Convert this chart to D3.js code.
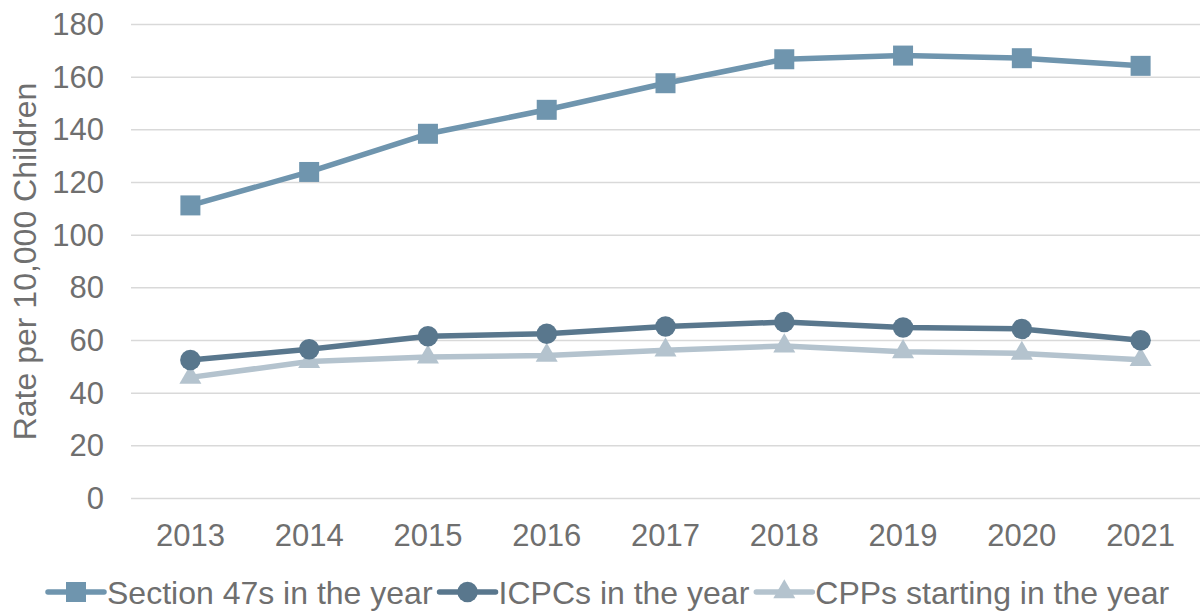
<!DOCTYPE html>
<html>
<head>
<meta charset="utf-8">
<script src="https://cdn.jsdelivr.net/npm/d3@7"></script>
<style>
  body { margin: 0; background: #fff; }
  svg text { font-family: "Liberation Sans", Arial, sans-serif; fill: #6f6f6f; }
</style>
</head>
<body>
<div id="chart"></div>
<script>
// chart data
const years = ['2013', '2014', '2015', '2016', '2017', '2018', '2019', '2020', '2021'];
const section47 = [111.3, 124.0, 138.5, 147.6, 157.7, 166.8, 168.2, 167.2, 164.3];
const icpcs = [52.6, 56.7, 61.6, 62.6, 65.3, 67.0, 64.9, 64.4, 60.1];
const cpps = [46.0, 52.0, 53.7, 54.3, 56.3, 57.9, 55.7, 55.1, 52.7];
const yTicks = [0, 20, 40, 60, 80, 100, 120, 140, 160, 180];
const seriesNames = ['Section 47s in the year', 'ICPCs in the year', 'CPPs starting in the year'];

function drawChart() {
  const W = 1201, H = 612;
  const margin = { top: 24.5, right: 1, bottom: 113.5, left: 131 };
  const width = W - margin.left - margin.right;
  const height = H - margin.top - margin.bottom;

  const svg = d3.select('#chart').append('svg')
    .attr('width', W)
    .attr('height', H);

  const g = svg.append('g')
    .attr('transform', `translate(${margin.left},${margin.top})`);

  const x = d3.scaleBand().domain(years).range([0, width]).padding(0);
  const y = d3.scaleLinear().domain([0, 180]).range([height, 0]);

  // gridlines
  g.append('g')
    .selectAll('line')
    .data(yTicks)
    .enter()
    .append('line')
    .attr('x1', 0)
    .attr('x2', width)
    .attr('y1', d => y(d))
    .attr('y2', d => y(d))
    .attr('stroke', '#d9d9d9')
    .attr('stroke-width', 1.5);

  // y axis labels
  const yAxis = g.append('g')
    .call(d3.axisLeft(y).tickValues(yTicks).tickSize(0).tickPadding(27));
  yAxis.select('.domain').remove();
  yAxis.selectAll('text')
    .style('font-size', '31px')
    .style('font-family', '"Liberation Sans", Arial, sans-serif')
    .attr('fill', '#6f6f6f');

  // x axis labels
  const xAxis = g.append('g')
    .attr('transform', `translate(0,${height})`)
    .call(d3.axisBottom(x).tickSize(0).tickPadding(25));
  xAxis.select('.domain').remove();
  xAxis.selectAll('text')
    .style('font-size', '31px')
    .style('font-family', '"Liberation Sans", Arial, sans-serif')
    .attr('fill', '#6f6f6f');

  // y axis title
  svg.append('text')
    .attr('transform', `translate(36,${margin.top + height / 2}) rotate(-90)`)
    .attr('text-anchor', 'middle')
    .style('font-size', '32px')
    .text('Rate per 10,000 Children');

  const series = [
    { name: seriesNames[0], values: section47, color: '#6f95ae', symbol: d3.symbolSquare, size: 400 },
    { name: seriesNames[1], values: icpcs, color: '#59778d', symbol: d3.symbolCircle, size: 330 },
    { name: seriesNames[2], values: cpps, color: '#b4c3ce', symbol: d3.symbolTriangle, size: 210 }
  ];

  const line = d3.line()
    .x((d, i) => x(years[i]) + x.bandwidth() / 2)
    .y(d => y(d));

  // draw back to front so the first series sits on top
  series.slice().reverse().forEach(s => {
    g.append('path')
      .datum(s.values)
      .attr('fill', 'none')
      .attr('stroke', s.color)
      .attr('stroke-width', 5.5)
      .attr('stroke-linejoin', 'round')
      .attr('d', line);

    g.selectAll(null)
      .data(s.values)
      .enter()
      .append('path')
      .attr('transform', (d, i) => `translate(${x(years[i]) + x.bandwidth() / 2},${y(d)})`)
      .attr('d', d3.symbol().type(s.symbol).size(s.size))
      .attr('fill', s.color);
  });

  // legend
  const legend = svg.append('g').attr('transform', `translate(0, 592)`);
  let lx = 48;
  series.forEach(s => {
    const item = legend.append('g').attr('transform', `translate(${lx},0)`);
    item.append('line')
      .attr('x1', 0).attr('x2', 56)
      .attr('y1', 0).attr('y2', 0)
      .attr('stroke', s.color)
      .attr('stroke-width', 5.5)
      .attr('stroke-linecap', 'round');
    item.append('path')
      .attr('transform', 'translate(28,0)')
      .attr('d', d3.symbol().type(s.symbol).size(s.size))
      .attr('fill', s.color);
    const t = item.append('text')
      .attr('x', 59)
      .attr('y', 11.5)
      .style('font-size', '32px')
      .text(s.name);
    lx += 59 + t.node().getComputedTextLength() + 7;
  });
}

drawChart();
</script>
</body>
</html>
